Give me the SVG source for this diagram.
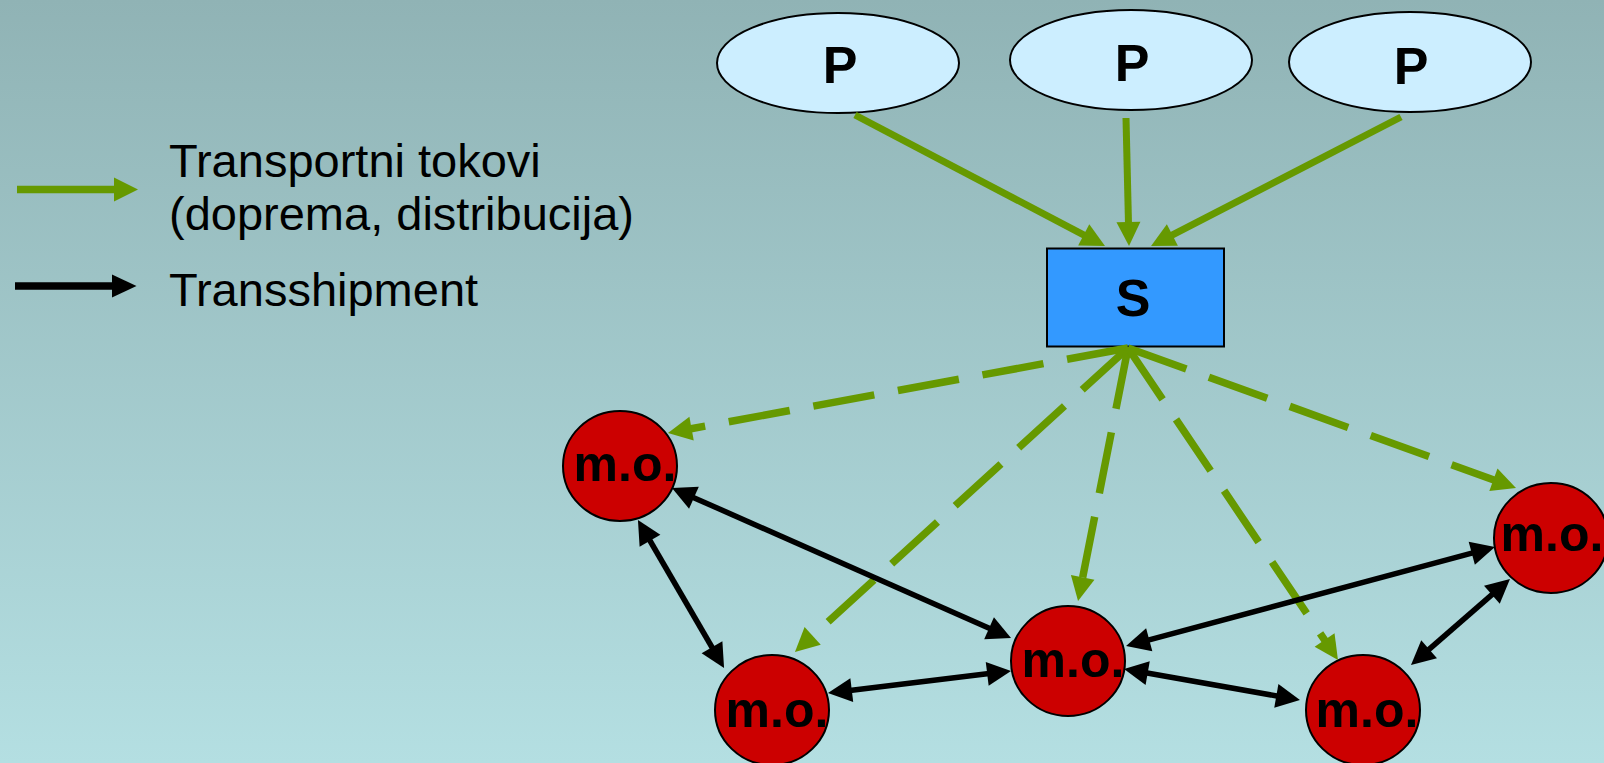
<svg xmlns="http://www.w3.org/2000/svg" width="1604" height="763" viewBox="0 0 1604 763">
<defs>
<linearGradient id="bg" x1="0" y1="0" x2="0" y2="1">
<stop offset="0" stop-color="#90b3b5"/>
<stop offset="1" stop-color="#b4dfe2"/>
</linearGradient>
<marker id="ag" markerUnits="userSpaceOnUse" markerWidth="40" markerHeight="40" refX="2" refY="0" orient="auto" overflow="visible">
<path d="M0,-12 L24,0 L0,12 z" fill="#669900"/>
</marker>
<marker id="ak" markerUnits="userSpaceOnUse" markerWidth="40" markerHeight="40" refX="2" refY="0" orient="auto-start-reverse" overflow="visible">
<path d="M0,-12 L24,0 L0,12 z" fill="#000"/>
</marker>
<style>
.lbl{font-family:"Liberation Sans",Arial,sans-serif;font-size:47px;fill:#000}
.nt{font-family:"Liberation Sans",Arial,sans-serif;font-weight:bold;fill:#000;text-anchor:middle}
.p{fill:#cceeff;stroke:#000;stroke-width:2}
.s{fill:#3399ff;stroke:#000;stroke-width:2}
.mo{fill:#cc0000;stroke:#000;stroke-width:2}
.g{stroke:#669900;stroke-width:7;fill:none;marker-end:url(#ag)}
.gd{stroke:#669900;stroke-width:7.5;fill:none;stroke-dasharray:62 24;marker-end:url(#ag)}
.k{stroke:#000;stroke-width:5.5;fill:none;marker-start:url(#ak);marker-end:url(#ak)}
</style>
</defs>
<rect width="1604" height="763" fill="url(#bg)"/>
<g id="legend">
<line x1="17" y1="189.5" x2="116" y2="189.5" stroke="#669900" stroke-width="7.6"/>
<path d="M114,177.5 L138,189.5 L114,201.5 z" fill="#669900"/>
<line x1="15" y1="286" x2="114" y2="286" stroke="#000" stroke-width="7.6"/>
<path d="M112,274.5 L136.5,286 L112,297.5 z" fill="#000"/>
<text class="lbl" x="169" y="177">Transportni tokovi</text>
<text class="lbl" x="169" y="230">(doprema, distribucija)</text>
<text class="lbl" x="169" y="306">Transshipment</text>
</g>
<g id="nodeP1"><ellipse class="p" cx="838" cy="63" rx="121" ry="50"/><text class="nt" x="840" y="83" font-size="52">P</text></g>
<g id="nodeP2"><ellipse class="p" cx="1131" cy="60" rx="121" ry="50"/><text class="nt" x="1132" y="81" font-size="52">P</text></g>
<g id="nodeP3"><ellipse class="p" cx="1410" cy="62" rx="121" ry="50"/><text class="nt" x="1411" y="84" font-size="52">P</text></g>
<g id="nodeS"><rect class="s" x="1047" y="248.5" width="177" height="98"/><text class="nt" x="1133" y="316" font-size="52">S</text></g>
<g id="mo1"><ellipse class="mo" cx="620" cy="466" rx="57" ry="55"/><text class="nt" x="625" y="481" font-size="50">m.o.</text></g>
<g id="mo2"><ellipse class="mo" cx="772" cy="710" rx="57" ry="55"/><text class="nt" x="777" y="727" font-size="50">m.o.</text></g>
<g id="mo3"><ellipse class="mo" cx="1068" cy="661" rx="57" ry="55"/><text class="nt" x="1073" y="677" font-size="50">m.o.</text></g>
<g id="mo4"><ellipse class="mo" cx="1363" cy="710" rx="57" ry="55"/><text class="nt" x="1367" y="727" font-size="50">m.o.</text></g>
<g id="mo5"><ellipse class="mo" cx="1551" cy="538" rx="57" ry="55"/><text class="nt" x="1552" y="551" font-size="50">m.o.</text></g>
<g id="connectors">
<path class="g" d="M855,115 L1085.5,235.8"/>
<path class="g" d="M1126,118 L1128.5,224"/>
<path class="g" d="M1401,117 L1170.6,235.9"/>
<path class="gd" d="M1128,348 L689.6,429"/>
<path class="gd" d="M1128,348 L811.2,637.2"/>
<path class="gd" d="M1128,348 L1082.3,579.4"/>
<path class="gd" d="M1128,348 L1325.7,641.7"/>
<path class="gd" d="M1128,348 L1495.3,480.5"/>
<path class="k" d="M692.1,496.9 L990.9,629.1"/>
<path class="k" d="M649,539 L713,649"/>
<path class="k" d="M849.8,690.4 L989.2,673.6"/>
<path class="k" d="M1147.3,640.3 L1473.7,552.7"/>
<path class="k" d="M1145.7,672.8 L1278.3,696.2"/>
<path class="k" d="M1427.6,650.6 L1493.4,593.4"/>
</g>
</svg>
